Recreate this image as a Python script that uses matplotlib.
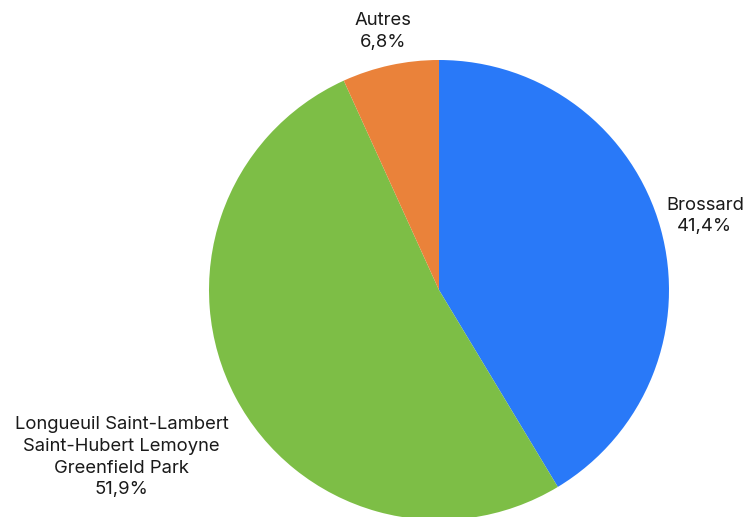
import numpy as np
import matplotlib.pyplot as plt

plt.rcParams['font.family'] = ['Inter', 'DejaVu Sans']

labels = ['Brossard', 'Longueuil Saint-Lambert\nSaint-Hubert Lemoyne\nGreenfield Park', 'Autres']
values = [41.4, 51.9, 6.8]
colors = ['#2979F8', '#7DBE46', '#EA823A']
label_dist = [1.2, 1.56, 1.15]

fig = plt.figure(figsize=(7.45, 5.17), dpi=100)
ax = fig.add_axes([0, 0, 1, 1])

cx, cy, r = 439, 227, 230
txt = [l + '\n' + ('%.1f%%' % v).replace('.', ',') for l, v in zip(labels, values)]
wedges, texts = ax.pie(values, colors=colors, startangle=90, counterclock=False,
                       center=(cx, cy), radius=r, labels=txt, frame=True,
                       textprops={'fontsize': 13.3, 'color': '#1a1a1a', 'linespacing': 1.35})
ax.set_xlim(0, 745)
ax.set_ylim(0, 517)
ax.set_aspect('equal')
ax.axis('off')

for w, t, d in zip(wedges, texts, label_dist):
    a = np.deg2rad((w.theta1 + w.theta2) / 2)
    t.set_position((cx + d * r * np.cos(a), cy + d * r * np.sin(a)))
    t.set_ha('center')
    t.set_va('center')
    t.set_multialignment('center')

fig.savefig('out.png', dpi=100)
